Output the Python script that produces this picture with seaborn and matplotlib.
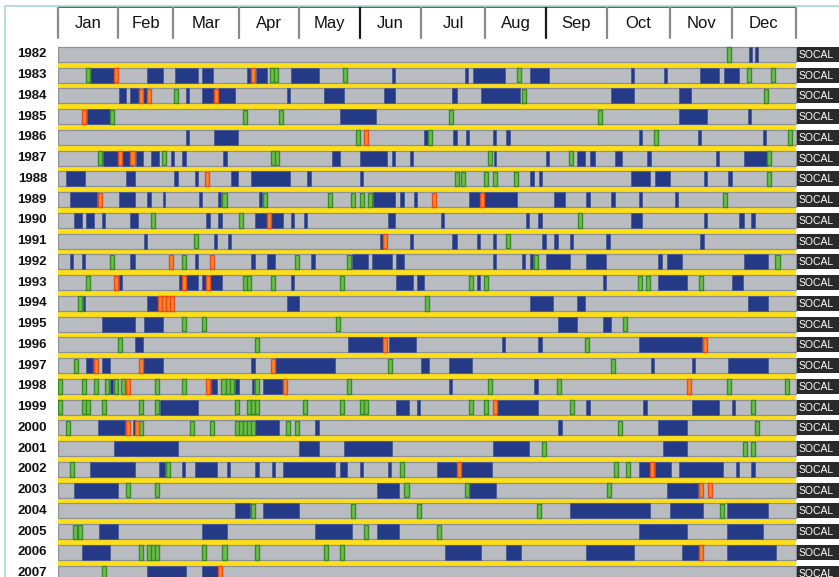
import matplotlib
matplotlib.use("Agg")
import matplotlib.pyplot as plt
from matplotlib.lines import Line2D
from matplotlib.patches import Rectangle
import pandas as pd
import seaborn as sns

# ---- data (day of year) ----
years = list(range(1982, 2008))
region = "SOCAL"
month_names = ["Jan", "Feb", "Mar", "Apr", "May", "Jun",
               "Jul", "Aug", "Sep", "Oct", "Nov", "Dec"]
month_edges = [0, 30, 57, 89.5, 119.5, 149.5, 179.5, 211.5, 241.5, 271.5, 303, 333.5, 365]
dark_edges = [149.5, 241.5]

# dark blue spells (start, end) per year
blue_spells = [
    [(342, 343.5), (345, 346.5)],
    [(16, 28), (44, 52), (58, 69.5), (71.5, 77), (93.5, 95.5), (98, 103.5), (115.5, 129), (165.5, 167),
     (201.5, 203), (205.5, 221), (233.5, 243), (283.5, 285), (300, 301.5), (317.5, 327), (329.5, 337)],
    [(30.5, 34), (36, 40), (42, 44), (63.5, 65), (71.5, 78), (79.5, 87.5), (113.5, 115), (131.5, 141.5),
     (161.5, 167), (195, 197.5), (209.5, 228.5), (273.5, 285), (307.5, 313)],
    [(14.5, 26), (139.5, 157.5), (307.5, 321), (341.5, 343)],
    [(63.5, 65), (77.5, 89), (181, 183), (195.5, 197.5), (202, 203.5), (215.5, 217), (221.5, 223.5),
     (287.5, 289), (316.5, 318), (349, 350.5)],
    [(22.5, 30), (32, 36.5), (38.5, 42), (46, 50), (56, 57.5), (61.5, 63.5), (82, 83.5), (135.5, 139.5),
     (149.5, 163), (165.5, 167), (174, 175.5), (216, 217), (241.5, 243), (257, 261), (263.5, 265.5),
     (275.5, 279), (291.5, 293.5), (325.5, 327), (339.5, 351)],
    [(4, 13.5), (34, 38), (57.5, 59.5), (68, 69.5), (85.5, 89), (95.5, 115), (123.5, 125.5), (149.5, 151),
     (233.5, 235.5), (238, 239.5), (283.5, 293), (295.5, 303), (319.5, 321), (331.5, 333.5)],
    [(6, 19.5), (30.5, 38), (44, 46), (52, 53), (70, 71.5), (79.5, 81), (99.5, 101), (156, 167),
     (169.5, 171.5), (176, 177.5), (203.5, 209.5), (211, 227), (245.5, 251), (261.5, 263.5),
     (273.5, 275.5), (287.5, 289), (305.5, 307)],
    [(8, 12), (14, 18), (22, 23.5), (36, 39.5), (73.5, 75.5), (79.5, 81.5), (97.5, 103.5), (105.5, 111.5),
     (115.5, 117), (122, 123.5), (163.5, 167), (189.5, 191), (231.5, 233), (237.5, 239.5), (283.5, 289),
     (319.5, 321), (337, 339.5), (343, 345)],
    [(42.5, 44), (77.5, 79), (84, 85.5), (159.5, 161), (174, 175.5), (195, 197.5), (207.5, 209),
     (215.5, 217), (239.5, 241.5), (245.5, 247.5), (253.5, 255), (271, 273), (317.5, 319.5)],
    [(6, 7.5), (12, 13.5), (36, 38), (68, 69.5), (95.5, 97.5), (103.5, 107.5), (125.5, 127.5),
     (145.5, 153.5), (155.5, 165.5), (167.5, 171.5), (215.5, 217), (229.5, 231), (233.5, 235),
     (241.5, 253.5), (261.5, 271), (297, 299), (301.5, 309), (339.5, 351.5)],
    [(30.5, 32), (60, 61.5), (63.5, 69.5), (71.5, 73.5), (75.5, 81.5), (115.5, 117), (167.5, 175.5),
     (177.5, 181), (207.5, 209), (269.5, 271), (297, 311), (333.5, 339)],
    [(12.5, 13.5), (44, 49.5), (113.5, 119.5), (233.5, 245), (257, 261), (341.5, 351.5)],
    [(22, 38), (42.5, 52), (247.5, 257), (269.5, 273.5)],
    [(38, 42), (143.5, 161), (164, 177), (219.5, 221), (237.5, 239.5), (287.5, 318.5)],
    [(14, 17.5), (22, 26), (42, 52), (95.5, 97.5), (107.5, 137), (179.5, 183.5), (193.5, 205),
     (293.5, 295), (313.5, 315), (331.5, 351.5)],
    [(26, 27.5), (76, 79), (87.5, 89.5), (96, 97), (101.5, 111.5), (193.5, 195), (235.5, 237.5)],
    [(50.5, 69.5), (167.5, 173.5), (177.5, 179), (217.5, 237.5), (261.5, 263.5), (289.5, 291.5),
     (313.5, 327), (333.5, 335)],
    [(20, 33.5), (37, 38), (97.5, 109.5), (127.5, 129), (247.5, 249.5), (297, 311)],
    [(28, 59.5), (119.5, 129), (141.5, 165.5), (215.5, 233), (299.5, 311)],
    [(16, 38), (50, 53), (61.5, 63), (68, 79), (83.5, 85), (97.5, 99.5), (106, 107.5), (111.5, 137),
     (139.5, 143), (149.5, 151), (163.5, 165), (187.5, 197.5), (199.5, 215), (287.5, 293),
     (295.5, 303.5), (307.5, 329), (335.5, 337), (343, 345)],
    [(8, 30), (158, 169), (203.5, 217), (301.5, 316.5)],
    [(87.5, 95), (101.5, 119.5), (253.5, 293), (303, 319), (331, 351.5)],
    [(20.5, 30), (71.5, 83.5), (127.5, 145.5), (158, 169), (287.5, 311), (331, 349)],
    [(12, 26), (191.5, 209.5), (221.5, 229), (261.5, 285), (309, 317), (331, 355.5)],
    [(44, 63.5), (71.5, 79.5)],
]

green_days = [
    [332],
    [15, 106, 108, 142, 228, 342, 354],
    [58.5, 230.5, 350.5],
    [27, 92.5, 110.5, 194.5, 268],
    [148.5, 184, 296, 362],
    [21, 52.5, 106.5, 108.5, 214, 254, 352],
    [197.5, 200.5, 212, 216.5, 226.5, 352],
    [82.5, 102.5, 134.5, 146, 150.5, 154.5, 330],
    [47, 90.5, 258.5],
    [68.5, 222.5],
    [27, 62.5, 118.5, 144, 236.5, 356],
    [15, 92.5, 94.5, 106.5, 140.5, 204.5, 212, 288, 292, 318],
    [11, 182.5],
    [62.5, 72.5, 138.5, 280.5],
    [31, 98.5, 262],
    [9, 164.5, 274.5],
    [1, 13, 19, 24.5, 29, 32.5, 49, 62.5, 82, 84, 86, 98.5, 144, 214, 248, 332, 360.5],
    [1, 13, 15, 23, 41, 49, 88.5, 94.5, 96.5, 98.5, 122.5, 140.5, 150.5, 152.5, 204.5, 212, 254.5, 344],
    [5, 41, 66.5, 76.5, 88.5, 90.5, 92.5, 94.5, 96.5, 114, 118.5, 278, 346],
    [240.5, 340, 344],
    [7, 54.5, 170.5, 276, 282],
    [35, 49, 172.5, 202.5, 272.5],
    [96.5, 146, 178.5, 238, 328.5],
    [8.5, 11, 152.5, 188.5],
    [41, 45, 47, 49, 72.5, 82.5, 98.5, 132.5, 140.5],
    [23],
]

orange_days = [
    [], [29, 96.5], [41, 45, 78.5], [13], [152.5], [31, 37], [74], [21, 186, 210], [104.5], [162],
    [56, 76.5], [29, 62.5, 74.5], [50.5, 52.5, 54.5, 56.5], [], [162, 320], [19, 41, 106.5],
    [35, 74.5, 112.5, 312], [216.5], [35, 39], [], [198.5, 294], [318, 322.5], [], [], [318], [80.5],
]

# ---- long tables ----
spells = pd.DataFrame([(y, s, e) for y, row in zip(years, blue_spells) for s, e in row],
                      columns=["year", "start", "end"])
ticks = pd.DataFrame([(y, d, "green") for y, row in zip(years, green_days) for d in row] +
                     [(y, d, "orange") for y, row in zip(years, orange_days) for d in row],
                     columns=["year", "day", "kind"])

sns.set_theme(style="white")
plt.rcParams["font.family"] = ["Liberation Sans", "DejaVu Sans"]

GRAY, GRAY_EDGE = "#b8bcc0", "#8d9297"
BLUE, BLUE_EDGE = "#243a86", "#4a5a94"
YELLOW = "#ffdf17"
tick_style = {"green": ("#6cbf4a", "#3b8a2a"), "orange": ("#f6892a", "#ec4a1a")}

W, H = 839, 577
fig = plt.figure(figsize=(W / 100, H / 100), dpi=100)
x0, x1 = 57.7, 795.7
ax = fig.add_axes([x0 / W, 0, (x1 - x0) / W, 1])
ax.set_xlim(0, 365)
pitch, top0 = 20.75, 47
ax.set_ylim((H - top0) / pitch, -top0 / pitch)
ax.axis("off")

row_h = 0.72
for r, y in enumerate(years):
    # yellow band under the row
    ax.broken_barh([(0, 365)], (r + row_h - 0.02, 1 - row_h + 0.02), facecolor=YELLOW, lw=0, zorder=1)
    ax.broken_barh([(0, 365)], (r, row_h), facecolor=GRAY, edgecolor=GRAY_EDGE, lw=0.9, zorder=2)
    sp = spells[spells.year == y]
    ax.broken_barh(list(zip(sp.start, sp.end - sp.start)), (r, row_h),
                   facecolor=BLUE, edgecolor=BLUE_EDGE, lw=0.6, zorder=3)
    for kind, (fc, ec) in tick_style.items():
        tk = ticks[(ticks.year == y) & (ticks.kind == kind)]
        ax.broken_barh([(d - 1.0, 2.0) for d in tk.day], (r + 0.02, row_h - 0.04),
                       facecolor=fc, edgecolor=ec, lw=1.0, zorder=4)
    # year label and region tag
    ax.text(-5.3, r + row_h / 2, str(y), ha="right", va="center", fontsize=9.5,
            fontweight="bold", color="#111111", clip_on=False)
    ax.add_patch(Rectangle((365.5, r), 25, row_h, facecolor="#2a2a2a", edgecolor="none",
                           clip_on=False, zorder=2))
    ax.text(366.3, r + row_h / 2 + 0.02, region, ha="left", va="center", fontsize=7.5,
            color="white", clip_on=False, zorder=3)

# month header
h_top, h_bot = (7 - top0) / pitch, (38 - top0) / pitch
ax.plot([0, 365], [h_top, h_top], color="#444444", lw=1.2, clip_on=False)
for e in month_edges:
    c = "#1a1a1a" if e in dark_edges else "#8a8a8a"
    ax.plot([e, e], [h_top, h_bot], color=c, lw=1.6, clip_on=False)
for i, m in enumerate(month_names):
    ax.text((month_edges[i] + month_edges[i + 1]) / 2, (h_top + h_bot) / 2 + 0.05, m,
            ha="center", va="center", fontsize=12, color="#111111", clip_on=False)

# light frame on the left and top
fig.add_artist(Line2D([5 / W, 1], [1 - 6 / H, 1 - 6 / H], color="#a9d7dc", lw=1.2))
fig.add_artist(Line2D([5 / W, 5 / W], [0, 1 - 6 / H], color="#a9d7dc", lw=1.2))

fig.savefig("out.png", dpi=100)
